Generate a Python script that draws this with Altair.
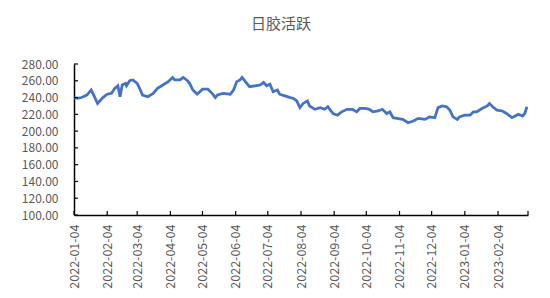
import altair as alt
import pandas as pd

# ---- data ----
dates = [
    "2022-01-04", "2022-01-07", "2022-01-11", "2022-01-16", "2022-01-20", "2022-01-22",
    "2022-01-26", "2022-01-31", "2022-02-04", "2022-02-08", "2022-02-11", "2022-02-14",
    "2022-02-16", "2022-02-18", "2022-02-21", "2022-02-22", "2022-02-25", "2022-02-28",
    "2022-03-04", "2022-03-07", "2022-03-09", "2022-03-14", "2022-03-19", "2022-03-23",
    "2022-03-28", "2022-04-02", "2022-04-06", "2022-04-08", "2022-04-13", "2022-04-16",
    "2022-04-20", "2022-04-22", "2022-04-25", "2022-04-29", "2022-05-04", "2022-05-09",
    "2022-05-13", "2022-05-16", "2022-05-18", "2022-05-23", "2022-05-30", "2022-06-02",
    "2022-06-05", "2022-06-08", "2022-06-10", "2022-06-13", "2022-06-17", "2022-06-22",
    "2022-06-27", "2022-06-30", "2022-07-03", "2022-07-06", "2022-07-09", "2022-07-13",
    "2022-07-15", "2022-07-20", "2022-07-25", "2022-07-28", "2022-07-31", "2022-08-03",
    "2022-08-06", "2022-08-10", "2022-08-12", "2022-08-17", "2022-08-22", "2022-08-26",
    "2022-08-29", "2022-09-03", "2022-09-07", "2022-09-11", "2022-09-16", "2022-09-21",
    "2022-09-25", "2022-09-28", "2022-10-03", "2022-10-07", "2022-10-10", "2022-10-15",
    "2022-10-19", "2022-10-23", "2022-10-26", "2022-10-29", "2022-11-03", "2022-11-07",
    "2022-11-12", "2022-11-17", "2022-11-21", "2022-11-23", "2022-11-28", "2022-12-02",
    "2022-12-07", "2022-12-10", "2022-12-14", "2022-12-18", "2022-12-21", "2022-12-24",
    "2022-12-28", "2022-12-30", "2023-01-04", "2023-01-09", "2023-01-12", "2023-01-15",
    "2023-01-20", "2023-01-25", "2023-01-27", "2023-01-30", "2023-02-03", "2023-02-08",
    "2023-02-12", "2023-02-17", "2023-02-20", "2023-02-23", "2023-02-27", "2023-03-01",
    "2023-03-03",
]
values = [
    240, 239, 240, 243, 249, 244,
    233, 240, 244, 245, 251, 254,
    241, 255, 257, 254, 260, 261,
    257, 249, 243, 241, 245, 251,
    255, 259, 264, 261, 261, 264,
    260, 257, 249, 244, 250, 250,
    245, 240, 243, 245, 244, 249,
    259, 261, 264, 259, 253, 254,
    255, 258, 254, 256, 247, 249,
    244, 242, 240, 239, 236, 228,
    233, 236, 230, 226, 228, 226,
    229, 221, 219, 223, 226, 226,
    223, 227, 227, 226, 223, 224,
    226, 221, 223, 216, 215, 214,
    210, 212, 215, 215, 214, 217,
    216, 228, 230, 229, 225, 217,
    214, 217, 219, 219, 223, 223,
    227, 230, 233, 229, 225, 224,
    221, 216, 218, 220, 218, 221,
    229,
]

x_label_dates = [
    "2022-01-04", "2022-02-04", "2022-03-04", "2022-04-04", "2022-05-04",
    "2022-06-04", "2022-07-04", "2022-08-04", "2022-09-04", "2022-10-04",
    "2022-11-04", "2022-12-04", "2023-01-04", "2023-02-04",
]
x_tick_dates = x_label_dates + ["2023-03-04"]
y_ticks = [100, 120, 140, 160, 180, 200, 220, 240, 260, 280]
title_text = "日胶活跃"

FONT = "Noto Sans CJK SC"
GRAY = "#595959"


def dt(s):
    y, m, d = (int(p) for p in s.split("-"))
    return alt.DateTime(year=y, month=m, date=d, utc=True)


df = pd.DataFrame({"date": dates, "value": values})
xt = pd.DataFrame({"date": x_tick_dates})
yt = pd.DataFrame({"value": y_ticks})

x_scale = alt.Scale(type="utc", domain=[dt("2022-01-04"), dt("2023-03-04")])
y_scale = alt.Scale(domain=[100, 280], nice=False, zero=False)

x_axis = alt.Axis(
    values=[dt(s) for s in x_label_dates],
    labelExpr="utcFormat(datum.value, '%Y-%m-%d')",
    labelAngle=-90,
    labelPadding=9,
    labelFontSize=12.5,
    labelFont=FONT,
    labelColor=GRAY,
    ticks=False,
    tickSize=0,
    grid=False,
    domainColor="#000000",
    domainWidth=1.5,
    labelOverlap=False,
)
y_axis = alt.Axis(
    values=y_ticks,
    format=".2f",
    labelPadding=16,
    labelFontSize=12,
    labelFont=FONT,
    labelColor=GRAY,
    ticks=False,
    tickSize=0,
    grid=False,
    domainColor="#000000",
    domainWidth=1.5,
)

line = alt.Chart(df).mark_line(color="#4472C4", strokeWidth=2.75).encode(
    x=alt.X("date:T", scale=x_scale, title=None, axis=x_axis),
    y=alt.Y("value:Q", scale=y_scale, title=None, axis=y_axis),
)

x_ticks = alt.Chart(xt).mark_rule(color="#000000", strokeWidth=1.2).encode(
    x=alt.X("date:T", scale=x_scale, title=None, axis=x_axis),
    y=alt.value(151),
    y2=alt.value(147),
)

y_ticks_layer = alt.Chart(yt).mark_rule(color="#000000", strokeWidth=1.2).encode(
    y=alt.Y("value:Q", scale=y_scale, title=None, axis=y_axis),
    x=alt.value(0),
    x2=alt.value(4),
)

chart = (
    alt.layer(line, x_ticks, y_ticks_layer)
    .properties(
        width=454,
        height=151,
        autosize=alt.AutoSizeParams(type="none"),
        padding={"left": 74, "top": 64, "right": 22, "bottom": 83},
        title=alt.TitleParams(
            text=title_text,
            font=FONT,
            fontSize=15,
            fontWeight="normal",
            color=GRAY,
            anchor="middle",
            dx=-20,
            offset=14,
            baseline="alphabetic",
        ),
        background="white",
    )
    .configure_view(strokeWidth=0)
)

chart.save("out.html", embed_options={"renderer": "svg", "actions": False})
